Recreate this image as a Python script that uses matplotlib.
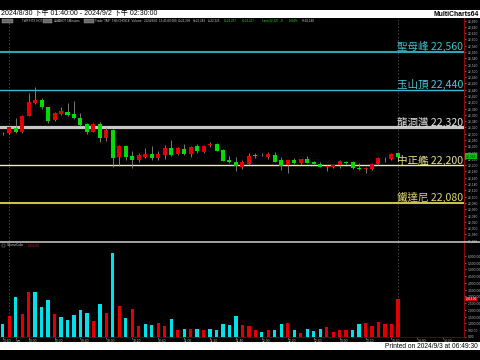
import matplotlib
matplotlib.use("Agg")
import matplotlib.pyplot as plt
import matplotlib.transforms as mtransforms
from matplotlib.patches import Rectangle
from matplotlib.lines import Line2D
import numpy as np

plt.rcParams['font.family'] = ['Liberation Sans', 'Noto Sans CJK TC', 'DejaVu Sans']

# ---------------- data ----------------
opens  = [22301, 22302, 22317, 22305, 22357, 22399, 22407, 22384, 22344, 22363,
          22370, 22364, 22351, 22331, 22307, 22331, 22288, 22312, 22225, 22261,
          22229, 22217, 22227, 22236, 22224, 22233, 22254, 22236, 22252, 22236,
          22261, 22243, 22265, 22268, 22248, 22217, 22210, 22193, 22204, 22231,
          22233, 22225, 22233, 22217, 22201, 22215, 22206, 22219, 22210, 22205,
          22194, 22194, 22201, 22210, 22210, 22190, 22189, 22187, 22204, 22221,
          22219, 22238]
highs  = [22307, 22325, 22349, 22360, 22431, 22448, 22413, 22386, 22370, 22386,
          22399, 22405, 22367, 22334, 22334, 22338, 22323, 22315, 22263, 22263,
          22245, 22238, 22254, 22261, 22246, 22264, 22280, 22258, 22268, 22262,
          22268, 22265, 22275, 22270, 22250, 22229, 22227, 22215, 22238, 22238,
          22238, 22241, 22241, 22225, 22218, 22222, 22221, 22229, 22212, 22211,
          22201, 22202, 22217, 22213, 22213, 22206, 22193, 22208, 22227, 22227,
          22238, 22243]
lows   = [22296, 22300, 22303, 22302, 22355, 22395, 22378, 22335, 22340, 22360,
          22358, 22347, 22326, 22299, 22305, 22275, 22278, 22195, 22198, 22217,
          22190, 22209, 22224, 22217, 22215, 22220, 22230, 22233, 22234, 22227,
          22240, 22240, 22259, 22244, 22212, 22208, 22182, 22187, 22202, 22222,
          22228, 22219, 22209, 22185, 22174, 22204, 22204, 22206, 22203, 22194,
          22180, 22192, 22190, 22205, 22188, 22185, 22174, 22185, 22202, 22211,
          22217, 22225]
closes = [22303, 22323, 22305, 22357, 22400, 22407, 22384, 22342, 22367, 22372,
          22361, 22349, 22328, 22307, 22331, 22286, 22312, 22224, 22261, 22225,
          22217, 22232, 22236, 22224, 22236, 22254, 22233, 22254, 22236, 22259,
          22245, 22262, 22268, 22246, 22214, 22210, 22196, 22210, 22229, 22229,
          22231, 22235, 22211, 22198, 22215, 22206, 22219, 22208, 22205, 22195,
          22196, 22200, 22213, 22208, 22190, 22187, 22191, 22204, 22222, 22219,
          22236, 22227]
volumes = [946, 1569, 2963, 1693, 3362, 3362, 2191, 2739, 1693, 1444,
           1220, 1643, 1967, 1768, 1195, 2465, 1768, 6175, 2316, 1370,
           2092, 797, 971, 896, 1021, 797, 1345, 498, 598, 598,
           573, 498, 598, 498, 946, 872, 1544, 896, 847, 548,
           349, 498, 523, 971, 1071, 548, 274, 573, 423, 573,
           747, 374, 498, 498, 498, 946, 1046, 797, 1145, 996,
           946, 2814]
# r = red volume bar, c = cyan volume bar
volume_flags = list("crcrrcccrc" "ccccrcrcrc" "rrccrrcrcr"
                    "crcccccrrr" "crccrcrccc" "rrrrccrrrr" "rr")

level_names  = ['聖母峰', '玉山頂', '龍洞灣', '中正艦', '鐵達尼']
level_prices = [22560, 22440, 22320, 22200, 22080]
level_line_colors = ['#2aa7b2', '#38bccb', '#c8c8c8', '#eeeea0', '#c9c246']
level_text_colors = ['#3cbfcf', '#44c9d9', '#e6e6e6', '#e6df86', '#e2d66a']
level_widths = [1.5, 1.0, 2.3, 1.0, 1.5]

time_labels = ['13:40', '9月', '09:00', '09:20', '09:40', '10:00', '10:20', '10:40',
               '11:00', '11:20', '11:40', '12:00', '12:20', '12:40', '13:00',
               '13:20', '13:40', '14:00', '14:20']
time_label_bars = [0, 2, 4, 8, 12, 16, 20, 24, 28, 32, 36, 40, 44, 48, 52, 56, 60, 64, 68]

session_break_bar = 1
cursor_bar = 61
last_price = 22229
last_volume = 2814

# ---------------- figure ----------------
W, H = 480, 360
fig = plt.figure(figsize=(W / 100, H / 100), dpi=100, facecolor='black')

def fx(px):
    return px / W

def fy(py):
    return 1 - py / H

RED = '#e40000'
GREEN = '#00dc00'
CYAN = '#00e1ea'
VRED = '#e00000'
WICK = '#8c8c8c'
TICKC = '#b4b4b4'
SPINE_RED = '#8a0a0a'

# price panel
ax = fig.add_axes([0, fy(241), fx(464), (241 - 18) / H], facecolor='black')
# volume panel
ax2 = fig.add_axes([0, fy(337), fx(464), (337 - 243) / H], facecolor='black', sharex=ax)

n = len(opens)
x = np.arange(n)
o = np.array(opens, float)
c = np.array(closes, float)
hi = np.array(highs, float)
lo = np.array(lows, float)
up = c > o
ax.vlines(x, lo, hi, color=WICK, lw=0.6, zorder=2)
bottom = np.minimum(o, c)
height = np.maximum(np.abs(c - o), 1.6)
ax.bar(x, height, bottom=bottom, width=0.62,
       color=[RED if u else GREEN for u in up], linewidth=0, zorder=3)

# level lines and labels
pbt = mtransforms.blended_transform_factory(ax.transAxes, ax.transData)
label_tr = pbt + mtransforms.ScaledTranslation(0, 1.2 / 72, fig.dpi_scale_trans)
for name, p, lc, tc, lw in zip(level_names, level_prices, level_line_colors,
                               level_text_colors, level_widths):
    ax.axhline(p, color=lc, lw=lw, zorder=1)
    ax.text(0.998, p, f"{name} {p:,}", transform=label_tr, ha='right', va='baseline',
            color=tc, fontsize=7.6, zorder=5,
            family=['Noto Sans CJK TC', 'DejaVu Sans'])

ax.set_xlim(-0.42, 71.2)
ax.set_ylim(21959, 22668)

# dashed vertical lines
for a in (ax, ax2):
    a.axvline(session_break_bar, color='#4a4a4a', lw=0.6, ls=(0, (2, 2)), zorder=0)
    a.axvline(cursor_bar, color='#4a4a4a', lw=0.6, ls=(0, (2, 2)), zorder=0)

# price axis ticks
ax.yaxis.tick_right()
pt = np.arange(21960, 22661, 20)
ax.set_yticks(pt)
ax.set_yticklabels([f"{v:,}" for v in pt])
ax.tick_params(axis='y', colors=TICKC, labelsize=2.4, length=1.5, width=0.4, pad=1)
ax.tick_params(axis='x', bottom=False, labelbottom=False)
for s in ('top', 'left', 'bottom'):
    ax.spines[s].set_visible(False)
ax.spines['right'].set_color(SPINE_RED)
ax.spines['right'].set_linewidth(0.8)

# current price box
ax.annotate(f"{last_price:,}", xy=(1.0, last_price), xycoords=pbt,
            xytext=(1.5, 0), textcoords='offset points', ha='left', va='center',
            fontsize=2.4, color='#003000',
            bbox=dict(boxstyle='square,pad=0.25', fc='#10c010', ec='none'),
            annotation_clip=False)

# volume bars
ax2.bar(x, volumes, width=0.5, color=[VRED if f == 'r' else CYAN for f in volume_flags],
        linewidth=0, zorder=3)
ax2.set_ylim(0, 6950)
ax2.yaxis.tick_right()
vt = np.arange(0, 6001, 500)
ax2.set_yticks(vt)
ax2.set_yticklabels([f"{v:,.2f}" for v in vt])
ax2.tick_params(axis='y', colors=TICKC, labelsize=2.4, length=1.5, width=0.4, pad=1)
ax2.set_xticks(time_label_bars)
ax2.set_xticklabels(time_labels)
ax2.tick_params(axis='x', colors=TICKC, labelsize=2.4, length=1.2, width=0.4, pad=0.6)
for lab in ax2.get_xticklabels():
    lab.set_ha('left')
for s in ('top', 'left'):
    ax2.spines[s].set_visible(False)
ax2.spines['right'].set_color(SPINE_RED)
ax2.spines['right'].set_linewidth(0.8)
ax2.spines['bottom'].set_color('#6a0808')
ax2.spines['bottom'].set_linewidth(0.6)

vtr = mtransforms.blended_transform_factory(ax2.transAxes, ax2.transData)
ax2.annotate(f"{last_volume:,.2f}", xy=(1.0, last_volume), xycoords=vtr,
             xytext=(1.0, 0), textcoords='offset points', ha='left', va='center',
             fontsize=2.1, color='white',
             bbox=dict(boxstyle='square,pad=0.15', fc='#d00000', ec='none'),
             annotation_clip=False, zorder=10)

# panel separator
fig.add_artist(Line2D([0, 1], [fy(242), fy(242)], color='#cfcfcf', lw=1.1))

# title bar
fig.add_artist(Rectangle((0, fy(18)), 1, 8 / H, transform=fig.transFigure,
                         facecolor='white', edgecolor='none'))
fig.text(fx(1), fy(14), "2024/8/30 下午 01:40:00 - 2024/9/2 下午 02:30:00",
         ha='left', va='center', fontsize=5.0, color='black')
fig.text(fx(479), fy(14), "MultiCharts64", ha='right', va='center',
         fontsize=4.9, color='black', fontweight='bold')

# info row
for x0, w in ((2, 11), (43, 9), (84, 10)):
    fig.add_artist(Rectangle((fx(x0), fy(23)), w / W, 4 / H, transform=fig.transFigure,
                             facecolor='#6a6a6a', edgecolor='#a0a0a0', lw=0.3))
info = [(22, "TWF.FITX HOT", '#d0d0d0'),
        (54, "台指HOT 5Minutes", '#d0d0d0'),
        (95, "Trade 'TAIF' TSE/CHOICE  Volume", '#d0d0d0'),
        (144, "2024/9/02  13:45:00.000", '#d0d0d0'),
        (178, "O=22,238", '#d0d0d0'),
        (193, "H=22,243", '#d0d0d0'),
        (208, "L=22,225", '#d0d0d0'),
        (224, "C=22,227", '#30e030'),
        (242, "C=22,227", '#30e030'),
        (262, "Last=22,227  -9", '#30e030'),
        (289, "-0.04%", '#30e030'),
        (302, "V=92,140", '#d0d0d0')]
for x0, s, col in info:
    fig.text(fx(x0), fy(21), s, ha='left', va='center', fontsize=2.2, color=col)

# volume legend
fig.add_artist(Rectangle((fx(2), fy(247)), 3 / W, 3 / H, transform=fig.transFigure,
                         facecolor='none', edgecolor='#a0a0a0', lw=0.3))
fig.text(fx(7), fy(245.5), "VolumeColor", ha='left', va='center', fontsize=2.2, color='#d0d0d0')
fig.text(fx(28), fy(245.5), f"{last_volume:,.2f}", ha='left', va='center', fontsize=2.2, color='#e02020')

# bottom bar
fig.add_artist(Rectangle((0, fy(350)), 1, 8 / H, transform=fig.transFigure,
                         facecolor='white', edgecolor='none'))
fig.text(fx(478), fy(346), "Printed on 2024/9/3 at 06:49:30", ha='right', va='center',
         fontsize=4.8, color='black')

fig.savefig("out.png", dpi=100, facecolor='black')
